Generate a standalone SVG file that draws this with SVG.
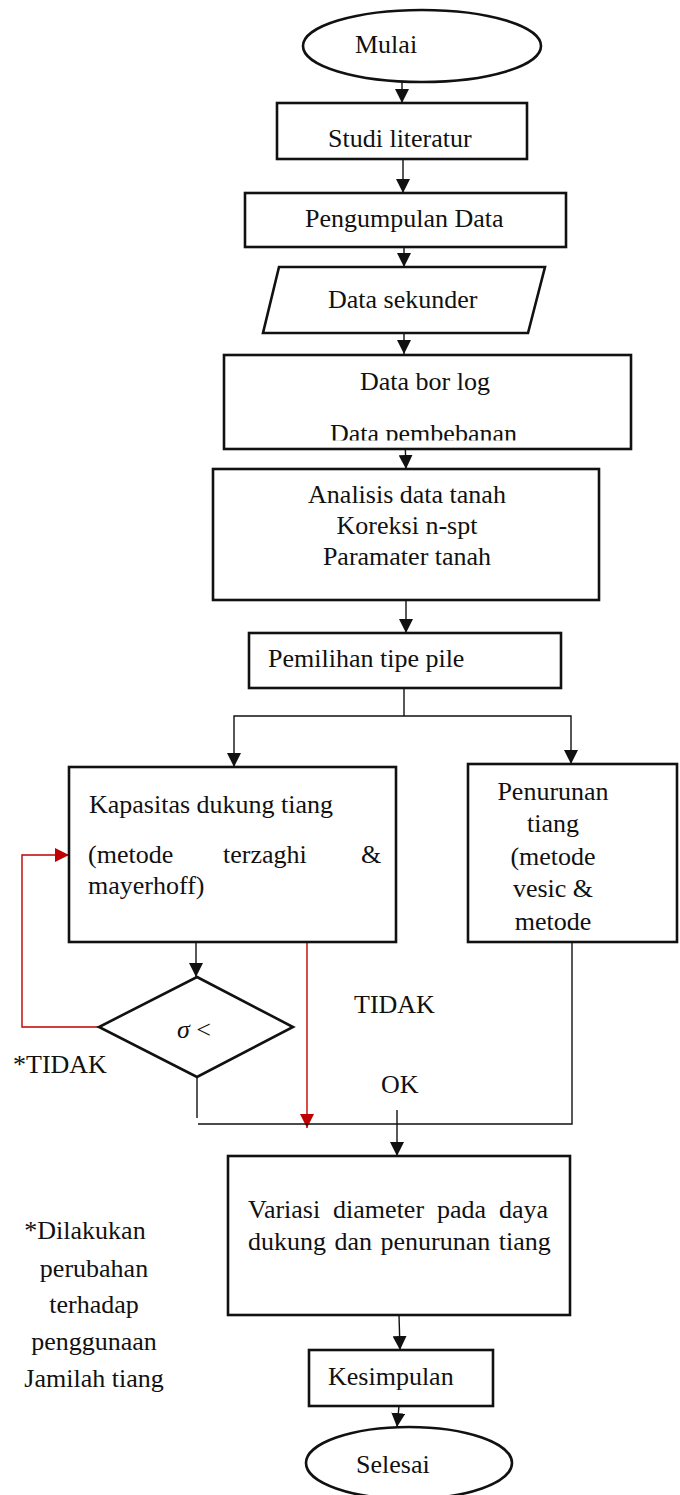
<svg xmlns="http://www.w3.org/2000/svg" width="680" height="1495" viewBox="0 0 680 1495">
<style>
.box{fill:#fff;stroke:#111;stroke-width:2.6}
.t{font-family:"Liberation Serif","Times New Roman",Times,"Nimbus Roman","DejaVu Serif",serif;font-size:26px;fill:#111}
.c{stroke:#111;stroke-width:1.4;fill:none}
.r{stroke:#c00000;stroke-width:1.4;fill:none}
</style>
<defs>
<marker id="ah" markerUnits="userSpaceOnUse" markerWidth="14" markerHeight="14" refX="14" refY="7" orient="auto"><path d="M0,0 L14,7 L0,14 Z" fill="#111"/></marker>
<marker id="ahr" markerUnits="userSpaceOnUse" markerWidth="14" markerHeight="14" refX="14" refY="7" orient="auto"><path d="M0,0 L14,7 L0,14 Z" fill="#c00000"/></marker>
<clipPath id="clipbor"><rect x="224" y="355" width="406" height="85.5"/></clipPath>
</defs>
<rect width="680" height="1495" fill="#fff"/>

<g id="connectors">
<path class="c" d="M402 82 V103" marker-end="url(#ah)"/>
<path class="c" d="M403 160 V193" marker-end="url(#ah)"/>
<path class="c" d="M404 247 V267" marker-end="url(#ah)"/>
<path class="c" d="M404 322 V354" marker-end="url(#ah)"/>
<path class="c" d="M405 438 L406 469" marker-end="url(#ah)"/>
<path class="c" d="M406 600 V633" marker-end="url(#ah)"/>
<path class="c" d="M404 688 V716"/>
<path class="c" d="M404 716 H234 V767" marker-end="url(#ah)"/>
<path class="c" d="M404 716 H571 V764" marker-end="url(#ah)"/>
<path class="c" d="M196 942 V977" marker-end="url(#ah)"/>
<path class="r" d="M99 1027 H22 V855 H69" marker-end="url(#ahr)"/>
<path class="r" d="M307 942 V1128" marker-end="url(#ahr)"/>
<path class="c" d="M197 1077 V1118"/>
<path class="c" d="M198 1124 H572 V942"/>
<path class="c" d="M397 1110 V1156" marker-end="url(#ah)"/>
<path class="c" d="M399 1315 L400 1350" marker-end="url(#ah)"/>
<path class="c" d="M399 1406 L397 1427" marker-end="url(#ah)"/>
</g>

<g id="mulai">
<ellipse class="box" cx="422" cy="46" rx="119" ry="36"/>
<text class="t" x="355" y="53">Mulai</text>
</g>
<g id="studi">
<rect class="box" x="277" y="103" width="250" height="56"/>
<text class="t" x="328" y="147">Studi literatur</text>
</g>
<g id="pengumpulan">
<rect class="box" x="245" y="193" width="321" height="54"/>
<text class="t" x="305" y="227">Pengumpulan Data</text>
</g>
<g id="sekunder">
<polygon class="box" points="279,267 545,267 528,333 263,333"/>
<text class="t" x="328" y="308">Data sekunder</text>
</g>
<g id="borlog">
<rect class="box" x="224" y="355" width="407" height="94"/>
<g clip-path="url(#clipbor)">
<text class="t" x="360" y="390">Data bor log</text>
<text class="t" x="330" y="442">Data pembebanan</text>
</g>
</g>
<g id="analisis">
<rect class="box" x="213" y="469" width="386" height="131"/>
<text class="t" text-anchor="middle" x="407" y="503">Analisis data tanah</text>
<text class="t" text-anchor="middle" x="407" y="534">Koreksi n-spt</text>
<text class="t" text-anchor="middle" x="407" y="565">Paramater tanah</text>
</g>
<g id="pemilihan">
<rect class="box" x="249" y="633" width="312" height="55"/>
<text class="t" x="268" y="667">Pemilihan tipe pile</text>
</g>
<g id="kapasitas">
<rect class="box" x="69" y="767" width="327" height="175"/>
<text class="t" x="89" y="813">Kapasitas dukung tiang</text>
<text class="t" y="863"><tspan x="88">(metode</tspan><tspan x="223">terzaghi</tspan><tspan x="361">&amp;</tspan></text>
<text class="t" x="88" y="894">mayerhoff)</text>
</g>
<g id="penurunan">
<rect class="box" x="468" y="764" width="209" height="178"/>
<text class="t" text-anchor="middle" x="553" y="800">Penurunan</text>
<text class="t" text-anchor="middle" x="553" y="832">tiang</text>
<text class="t" text-anchor="middle" x="553" y="865">(metode</text>
<text class="t" text-anchor="middle" x="553" y="897">vesic &amp;</text>
<text class="t" text-anchor="middle" x="553" y="930">metode</text>
</g>
<g id="keputusan">
<polygon class="box" points="197,977 293,1027 197,1077 99,1027"/>
<text class="t" x="177" y="1038"><tspan font-style="italic">σ</tspan> &lt;</text>
</g>
<g id="labels">
<text class="t" x="13" y="1073">*TIDAK</text>
<text class="t" x="354" y="1013">TIDAK</text>
<text class="t" x="381" y="1093">OK</text>
</g>
<g id="variasi">
<rect class="box" x="228" y="1156" width="342" height="159"/>
<text class="t" x="248" y="1218" word-spacing="6.4">Variasi diameter pada daya</text>
<text class="t" x="248" y="1250" word-spacing="2">dukung dan penurunan tiang</text>
</g>
<g id="catatan">
<text class="t" text-anchor="middle" x="85" y="1239">*Dilakukan</text>
<text class="t" text-anchor="middle" x="94" y="1277">perubahan</text>
<text class="t" text-anchor="middle" x="94" y="1313">terhadap</text>
<text class="t" text-anchor="middle" x="94" y="1350">penggunaan</text>
<text class="t" text-anchor="middle" x="94" y="1387">Jamilah tiang</text>
</g>
<g id="kesimpulan">
<rect class="box" x="309" y="1350" width="184" height="56"/>
<text class="t" x="328" y="1385">Kesimpulan</text>
</g>
<g id="selesai">
<ellipse class="box" cx="409" cy="1463" rx="103" ry="36"/>
<text class="t" x="356" y="1473">Selesai</text>
</g>
</svg>
